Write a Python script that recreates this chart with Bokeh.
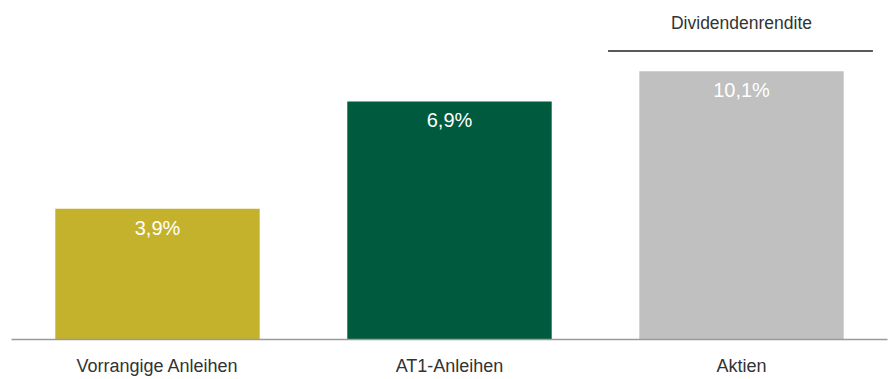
from bokeh.plotting import figure
from bokeh.models import ColumnDataSource, Range1d, FactorRange
from bokeh.transform import dodge
from bokeh.core.properties import value
from bokeh.embed import file_html
from bokeh.resources import INLINE

# --- data ---
categories = ["Vorrangige Anleihen", "AT1-Anleihen", "Aktien"]
yields = [3.9, 6.9, 10.1]              # values shown in labels
bar_heights = [3.9, 7.1, 8.0]          # drawn bar heights as read from the (stylised) picture
labels = ["3,9%", "6,9%", "10,1%"]
colors = ["#C5B22C", "#005A3D", "#BFC0BF"]
bracket_category = "Aktien"
bracket_label = "Dividendenrendite"

FONT = "Liberation Sans"

src = ColumnDataSource(dict(cat=categories, h=bar_heights, v=yields, lab=labels, col=colors))

p = figure(
    x_range=FactorRange(*categories, range_padding=0),
    y_range=Range1d(0, 9.87),
    width=888, height=378,
    output_backend="svg", toolbar_location=None,
    min_border_left=11, min_border_right=1, min_border_top=8, min_border_bottom=0,
)
p.outline_line_color = None
p.xgrid.grid_line_color = None
p.ygrid.grid_line_color = None
p.yaxis.visible = False
p.background_fill_color = "white"
p.border_fill_color = "white"

p.vbar(x="cat", top="h", width=0.70, source=src, fill_color="col", line_color=None)

p.text(x="cat", y="h", text="lab", source=src, text_color="white",
       text_font=value(FONT), text_font_size="20px", text_align="center",
       text_baseline="alphabetic", y_offset=19)

# bracket over the equity bar
bsrc = ColumnDataSource(dict(cat=[bracket_category], y=[8.6], ty=[9.43], t=[bracket_label]))
p.segment(x0=dodge("cat", -0.457, range=p.x_range), x1=dodge("cat", 0.450, range=p.x_range),
          y0="y", y1="y", source=bsrc, line_color="#222222", line_width=1.5)
p.text(x="cat", y="ty", text="t", source=bsrc, text_color="#333333",
       text_font=value(FONT), text_font_size="17.5px", text_align="center",
       text_baseline="alphabetic")

ax = p.xaxis[0]
ax.axis_line_color = "#9a9a9a"
ax.axis_line_width = 1.5
ax.major_tick_line_color = None
ax.minor_tick_line_color = None
ax.major_tick_out = 0
ax.major_tick_in = 0
ax.major_label_standoff = 16
ax.major_label_text_font = FONT
ax.major_label_text_font_size = "18px"
ax.major_label_text_color = "#333333"

open("out.html", "w").write(file_html(p, INLINE))
